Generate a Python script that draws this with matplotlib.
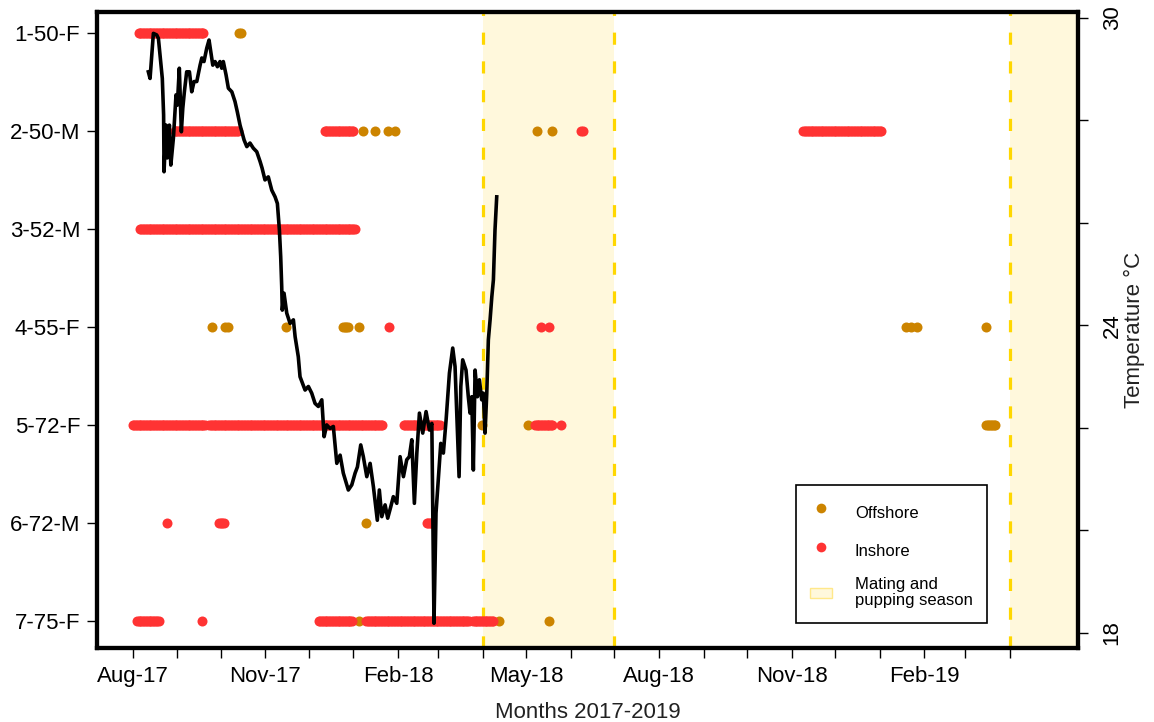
import datetime as dt
import numpy as np
import pandas as pd
import matplotlib
matplotlib.use('Agg')
import matplotlib.pyplot as plt
import matplotlib.dates as mdates
from matplotlib.lines import Line2D
from matplotlib.patches import Patch, Rectangle
from matplotlib.legend_handler import HandlerPatch

plt.rcParams['font.family'] = ['Liberation Sans', 'DejaVu Sans']

# ----------------------------- data -----------------------------
sharks = ['1-50-F', '2-50-M', '3-52-M', '4-55-F', '5-72-F', '6-72-M', '7-75-F']

# daily receiver detections, one period (first day, last day) per entry
inshore_row = [1, 2, 2, 2, 2, 3, 4, 4, 4, 5, 5, 5, 5, 5, 6, 6, 6, 7, 7, 7, 7, 7]
inshore_start = ['2017-08-05', '2017-08-30', '2017-12-12', '2018-06-08', '2018-11-09',
                 '2017-08-06', '2018-01-26', '2018-05-11', '2018-05-17',
                 '2017-08-01', '2017-09-23', '2018-02-05', '2018-05-07', '2018-05-25',
                 '2017-08-25', '2017-09-30', '2018-02-21',
                 '2017-08-04', '2017-09-18', '2017-12-08', '2018-01-10', '2018-03-25']
inshore_end = ['2017-09-19', '2017-10-13', '2018-01-01', '2018-06-09', '2019-01-02',
               '2018-01-02', '2018-01-26', '2018-05-11', '2018-05-17',
               '2017-09-20', '2018-01-21', '2018-03-02', '2018-05-19', '2018-05-25',
               '2017-08-25', '2017-10-03', '2018-02-24',
               '2017-08-19', '2017-09-18', '2017-12-31', '2018-03-22', '2018-04-08']

offshore_row = [1, 2, 2, 2, 2, 2, 2, 4, 4, 4, 4, 4, 4, 4, 4, 5, 5, 5, 6, 7, 7, 7]
offshore_start = ['2017-10-14', '2018-01-08', '2018-01-16', '2018-01-25', '2018-01-30',
                  '2018-05-08', '2018-05-19',
                  '2017-09-25', '2017-10-04', '2017-10-06', '2017-11-15', '2017-12-25',
                  '2018-01-05', '2019-01-19', '2019-03-16',
                  '2018-03-31', '2018-05-02', '2019-03-16',
                  '2018-01-10',
                  '2018-01-05', '2018-04-12', '2018-05-17']
offshore_end = ['2017-10-15', '2018-01-08', '2018-01-16', '2018-01-25', '2018-01-30',
                '2018-05-08', '2018-05-19',
                '2017-09-25', '2017-10-04', '2017-10-06', '2017-11-15', '2017-12-28',
                '2018-01-05', '2019-01-27', '2019-03-16',
                '2018-03-31', '2018-05-02', '2019-03-22',
                '2018-01-10',
                '2018-01-05', '2018-04-12', '2018-05-17']
offshore_skip = {'2019-01-19': 4}   # the Jan-19 group is three dots, four days apart

# water temperature, days since 2017-08-01
temp_start = dt.datetime(2017, 8, 1)
temp_day = [10.8, 12.0, 14.3, 16.6, 17.8, 19.4, 20.5, 21.4, 21.7, 23.1, 24.0, 25.4, 26.4, 28.2,
            30.0, 30.9, 32.3, 33.7, 34.7, 35.8, 37.4, 39.3, 40.9, 42.5, 44.4, 46.7, 47.9, 49.4,
            51.3, 52.9, 54.1, 55.5, 57.1, 58.7, 60.5, 61.7, 62.8, 64.7, 66.3, 68.7, 70.9, 72.5,
            74.4, 77.2, 79.1, 81.3, 83.6, 86.0, 88.3, 89.7, 91.7, 94.0, 96.4, 98.7, 100.3, 101.7,
            102.6, 103.3, 103.7, 104.9, 106.8, 109.1, 111.4, 112.6, 114.8, 116.0, 119.5, 121.8,
            124.1, 126.4, 128.7, 131.1, 132.7, 134.5, 136.8, 139.1, 141.5, 143.8, 146.0, 149.5,
            151.9, 154.2, 155.8, 158.1, 159.9, 162.3, 164.6, 166.9, 169.6, 171.0, 172.7, 175.0,
            176.8, 178.9, 180.7, 183.1, 185.4, 187.7, 190.0, 191.8, 193.5, 195.3, 197.0, 198.8,
            201.1, 203.4, 205.7, 207.4, 208.9, 210.3, 211.9, 213.6, 215.4, 217.3, 219.6, 221.9,
            223.5, 225.1, 226.3, 227.5, 228.8, 231.1, 232.7, 233.9, 235.1, 236.2, 237.4, 239.0,
            240.4, 242.0, 243.1, 244.3, 245.5, 246.6, 247.8, 249.0, 250.1, 251.2, 252.4]
temp_c = [28.95, 28.82, 29.70, 29.67, 29.60, 29.15, 28.82, 28.11, 27.00, 27.91, 27.27, 27.91,
          27.13, 27.66, 28.50, 28.30, 29.02, 27.78, 28.24, 28.56, 28.95, 28.95, 28.56, 28.76,
          28.76, 29.08, 29.22, 29.15, 29.41, 29.57, 29.34, 29.08, 29.15, 29.05, 29.15, 29.02,
          29.15, 28.89, 28.63, 28.56, 28.37, 28.17, 27.91, 27.62, 27.49, 27.56, 27.46, 27.39,
          27.20, 27.07, 26.84, 26.90, 26.64, 26.51, 26.38, 25.86, 25.34, 24.76, 24.30, 24.63,
          24.24, 24.04, 24.11, 23.78, 23.39, 23.00, 22.74, 22.81, 22.68, 22.48, 22.42, 22.55,
          21.83, 22.06, 21.99, 22.03, 21.31, 21.47, 21.12, 20.79, 20.89, 21.12, 21.24, 21.67,
          21.44, 21.05, 21.31, 20.85, 20.20, 20.79, 20.27, 20.50, 20.24, 20.46, 20.66, 20.53,
          21.44, 21.05, 21.38, 21.44, 21.77, 20.53, 21.51, 22.29, 21.90, 22.32, 21.96, 22.09,
          18.19, 20.34, 20.99, 21.70, 21.51, 22.16, 23.07, 23.56, 23.20, 21.96, 21.05, 22.81,
          23.33, 23.13, 22.61, 22.29, 22.61, 21.18, 23.13, 22.61, 22.94, 22.55, 22.68, 21.90,
          22.68, 23.72, 24.11, 24.56, 24.89, 25.86, 26.51]

season_start = ['2018-04-01', '2019-04-01']
season_end = ['2018-07-01', '2019-07-01']

month_ticks = pd.date_range('2017-08-01', '2019-04-01', freq='MS')
label_months = [8, 11, 2, 5]

offshore_col = '#CC8400'
inshore_col = '#FF3333'
season_fill = '#FFF8DC'
season_line = '#FFD700'


def expand(rows, starts, ends, skip=None):
    xs, ys = [], []
    for r, s, e in zip(rows, starts, ends):
        step = (skip or {}).get(s, 1)
        d = pd.date_range(s, e, freq=f'{step}D')
        xs.extend(d); ys.extend([r] * len(d))
    return mdates.date2num(pd.DatetimeIndex(xs).to_pydatetime()), np.array(ys)


def small_rect(legend, orig_handle, xdescent, ydescent, width, height, fontsize):
    # flat swatch, about 10 px tall, centred in the handle box
    return Rectangle((-xdescent, -ydescent + height / 2 - 3.6), width, 7.2)


# ----------------------------- figure -----------------------------
fig = plt.figure(figsize=(11.54, 7.22), dpi=100)
ax = fig.add_axes([97 / 1154, 1 - 648 / 722, 981 / 1154, 636 / 722])
ax2 = ax.twinx()

for s, e in zip(season_start, season_end):
    ax.axvspan(pd.Timestamp(s), pd.Timestamp(e), color=season_fill, lw=0, zorder=0)
    for d in (s, e):
        ax.axvline(pd.Timestamp(d), color=season_line, lw=2.3, ls=(0, (3.8, 5.2)), zorder=1)

ox, oy = expand(offshore_row, offshore_start, offshore_end, offshore_skip)
ix, iy = expand(inshore_row, inshore_start, inshore_end)
ax.scatter(ox, oy, s=52, color=offshore_col, lw=0, zorder=3)
ax.scatter(ix, iy, s=52, color=inshore_col, lw=0, zorder=4)

tdates = [temp_start + dt.timedelta(days=d) for d in temp_day]
ax2.plot(tdates, temp_c, color='black', lw=2.6, solid_joinstyle='round', zorder=5)

ax.set_xlim(dt.datetime(2017, 7, 7, 5), dt.datetime(2019, 5, 18, 12))
ax.set_ylim(7.276, 0.786)
ax2.set_ylim(17.707, 30.117)

ax.set_yticks(range(1, 8))
ax.set_yticklabels(sharks)
ax.set_xticks(month_ticks)
ax.set_xticklabels([m.strftime('%b-%y') if m.month in label_months else '' for m in month_ticks])
ax2.set_yticks(range(18, 31, 2))
ax2.set_yticklabels([str(t) if t in (18, 24, 30) else '' for t in range(18, 31, 2)],
                    rotation=90, va='center')

ax.tick_params(axis='both', length=7, width=1, labelsize=16)
ax.tick_params(axis='y', pad=5)
ax.tick_params(axis='x', pad=6)
ax2.tick_params(axis='y', length=7, width=1, labelsize=16, pad=10)

for a in (ax, ax2):
    for sp in a.spines.values():
        sp.set_linewidth(3)
        sp.set_color('black')

ax.set_xlabel('Months 2017-2019', fontsize=16, labelpad=11, color='#222222')
ax2.set_ylabel('Temperature °C', fontsize=16, labelpad=1, color='#222222')

handles = [Line2D([], [], ls='none', marker='o', markersize=7, color=offshore_col, mew=0),
           Line2D([], [], ls='none', marker='o', markersize=7, color=inshore_col, mew=0),
           Patch(facecolor=season_fill, edgecolor='#FFE88A', lw=1)]
leg = ax2.legend(handles, ['Offshore', 'Inshore', 'Mating and\npupping season'],
                 loc='upper left', bbox_to_anchor=(0.7125, 0.2563), borderaxespad=0,
                 fontsize=12, fancybox=False, edgecolor='black', framealpha=1,
                 borderpad=0.85, labelspacing=0.74, handleheight=2.06,
                 handlelength=1.3, handletextpad=1.38,
                 handler_map={Patch: HandlerPatch(patch_func=small_rect)})
leg.get_frame().set_linewidth(1.2)
leg.get_texts()[2].set_linespacing(1.15)

fig.savefig('out.png', dpi=100)
